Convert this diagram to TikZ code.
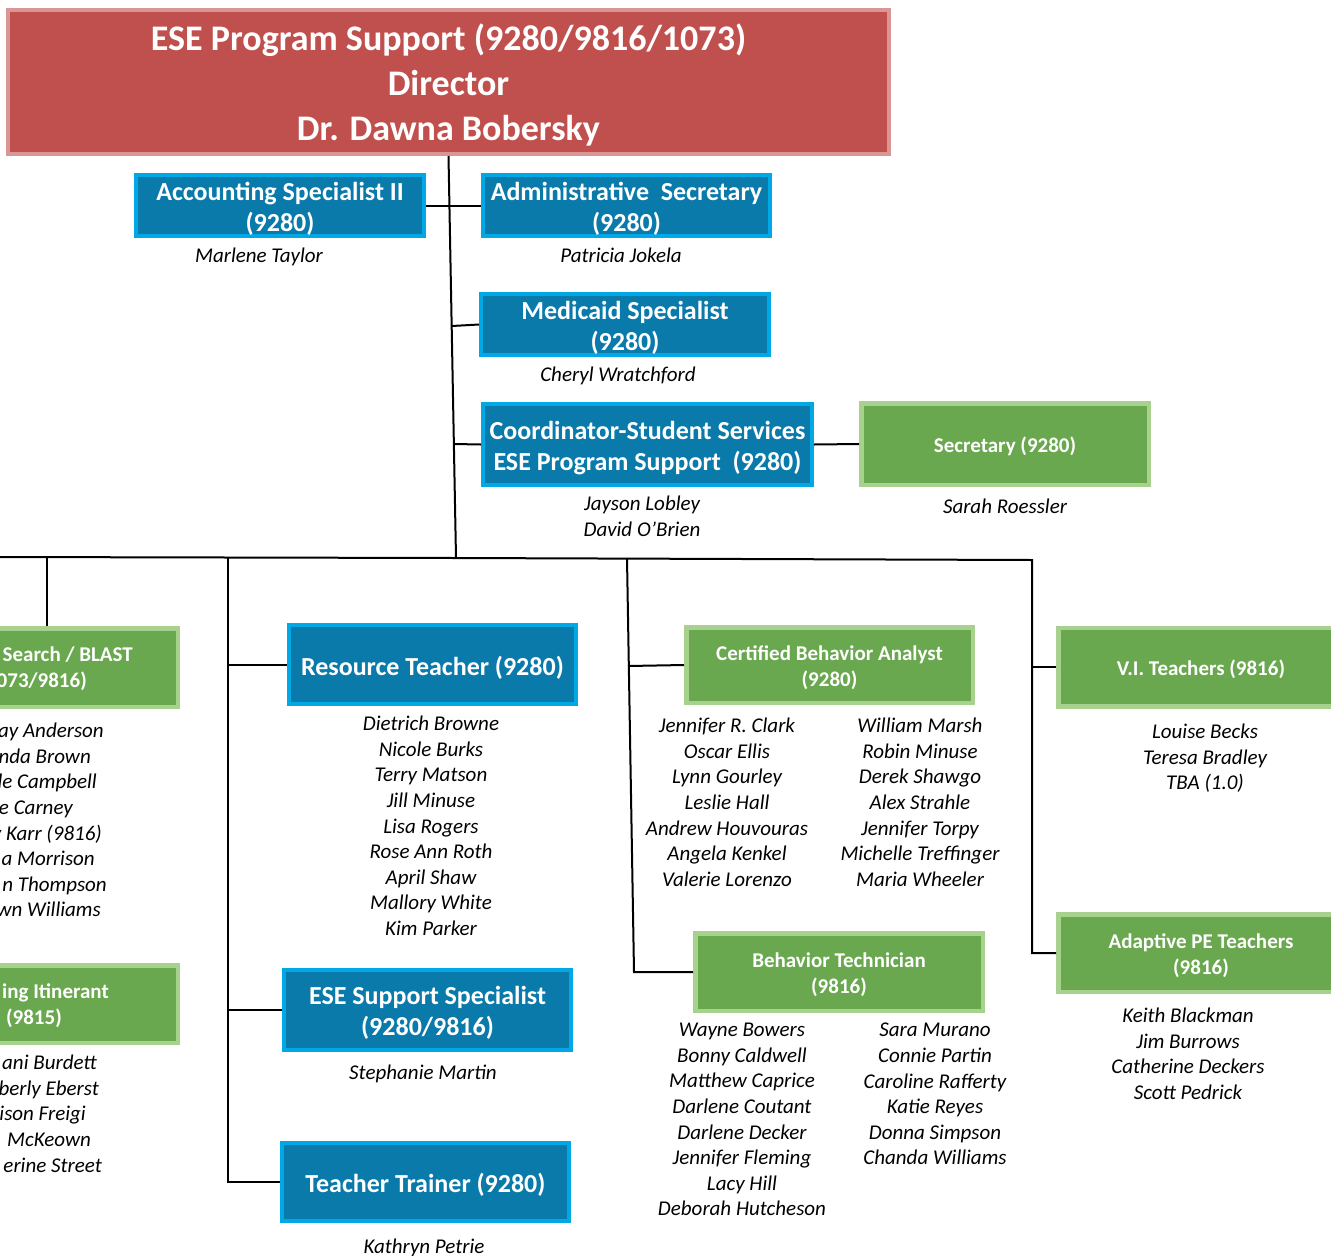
\documentclass[tikz,border=0pt]{standalone}
\usepackage{fontspec}
\setmainfont{Carlito}
\definecolor{dirfill}{HTML}{C0504D}
\definecolor{dirborder}{HTML}{DA9694}
\definecolor{bluefill}{HTML}{0A7AAB}
\definecolor{blueborder}{HTML}{00A8E6}
\definecolor{greenfill}{HTML}{6AA84F}
\definecolor{greenborder}{HTML}{A9D18E}
\newcommand{\padR}[1]{\rule{#1}{0pt}}
\newcommand{\liftup}[1]{\rule{0pt}{#1em}}
\tikzset{
 conn/.style={line width=2pt, black},
 dirbox/.style={fill=dirfill, draw=dirborder, line width=4pt, text=white, font=\bfseries\fontsize{36}{45}\selectfont, align=center, inner sep=0},
 bluebox/.style={fill=bluefill, draw=blueborder, line width=4pt, text=white, font=\bfseries\fontsize{26}{31}\selectfont, align=center, inner sep=0, execute at begin node={\rule{0pt}{0.97em}}},
 greenbox/.style={fill=greenfill, draw=greenborder, line width=4.5pt, text=white, font=\bfseries\fontsize{21}{26}\selectfont, align=center, inner sep=0, execute at begin node={\rule{0pt}{0.97em}}},
 greentext/.style={text=white, font=\bfseries\fontsize{21}{26}\selectfont, align=right, inner sep=0, anchor=east},
 names/.style={font=\itshape\fontsize{21}{25.6}\selectfont, align=center, inner sep=0, anchor=north, execute at begin node=\strut},
 lnames/.style={font=\itshape\fontsize{21}{25.6}\selectfont, align=right, inner sep=0, anchor=north east, execute at begin node=\strut},
}
\begin{document}
\begin{tikzpicture}[x=1pt,y=-1pt]
\useasboundingbox (0,0) rectangle (1331,1256);
\clip (0,0) rectangle (1331,1256);

% Director
\node[dirbox, minimum width=881, minimum height=144] (dir) at (448.5,82) {\liftup{0.89}ESE Program Support (9280/9816/1073)\\Director\\Dr. Dawna Bobersky};

% Blue boxes upper
\node[bluebox, minimum width=288, minimum height=61] (acc) at (280,205.5) {\liftup{0.94}Accounting Specialist II\\(9280)};
\node[bluebox, minimum width=287, minimum height=61] (adm) at (626.5,205.5) {\liftup{0.94}Administrative~ Secretary\\(9280)};
\node[bluebox, minimum width=288, minimum height=61] (med) at (625,324.5) {\liftup{0.94}Medicaid Specialist\\(9280)};
\node[bluebox, minimum width=329, minimum height=81] (coord) at (647.5,444.5) {\liftup{0.94}Coordinator-Student Services\\ESE Program Support~ (9280)};
\node[greenbox, minimum width=287.5, minimum height=81.5] (sec) at (1005,444) {Secretary (9280)};

\node[names] (accn) at (259,244) {Marlene Taylor};
\node[names] (admn) at (621,244) {Patricia Jokela};
\node[names] (medn) at (618,363) {Cheryl Wratchford};
\node[names] (coordn) at (642,496) {Jayson Lobley\\David O’Brien};
\node[names] (secn) at (1005,495) {Sarah Roessler};

% Left green boxes (cut off)
\node[greenbox, minimum width=287.5, minimum height=78.5] (cf) at (34,667.5) {};
\node[greentext] (cft) at (133,669) {Search / BLAST\\073/9816)\hspace*{46pt}};
\node[lnames] (cfn) at (107,723) {ay Anderson\padR{3pt}\\nda Brown\padR{16pt}\\le Campbell\padR{10pt}\\e Carney\padR{34pt}\\y Karr (9816)\padR{5pt}\\a Morrison\padR{12pt}\\n Thompson\\wn Williams\padR{6pt}};

\node[greenbox, minimum width=287.5, minimum height=77.5] (hi) at (34,1004) {};
\node[greentext] (hit) at (109,1006) {ing Itinerant\\(9815)\hspace*{47pt}};
\node[lnames] (hin) at (102,1055) {ani Burdett\padR{5pt}\\berly Eberst\padR{3pt}\\ison Freigi\padR{16pt}\\McKeown\padR{11pt}\\erine Street};

% Left column blue boxes
\node[bluebox, minimum width=287, minimum height=79] (rt) at (432.5,664.5) {Resource Teacher (9280)};
\node[names] (rtn) at (431,716) {Dietrich Browne\\Nicole Burks\\Terry Matson\\Jill Minuse\\Lisa Rogers\\Rose Ann Roth\\April Shaw\\Mallory White\\Kim Parker};
\node[bluebox, minimum width=287, minimum height=80] (ese) at (427.5,1010) {\liftup{0.94}ESE Support Specialist\\(9280/9816)};
\node[names] (esen) at (423,1061) {Stephanie Martin};
\node[bluebox, minimum width=287, minimum height=78] (tt) at (425.5,1182) {Teacher Trainer (9280)};
\node[names] (ttn) at (424,1235) {Kathryn Petrie};

% Middle green boxes
\node[greenbox, minimum width=286.5, minimum height=75.5] (cba) at (829.5,665) {\liftup{0.92}Certified Behavior Analyst\\(9280)};
\node[names] (cban1) at (727,718) {Jennifer R. Clark\\Oscar Ellis\\Lynn Gourley\\Leslie Hall\\Andrew Houvouras\\Angela Kenkel\\Valerie Lorenzo};
\node[names] (cban2) at (920,718) {William Marsh\\Robin Minuse\\Derek Shawgo\\Alex Strahle\\Jennifer Torpy\\Michelle Treffinger\\Maria Wheeler};
\node[greenbox, minimum width=287.5, minimum height=77.5] (bt) at (839,972) {\liftup{0.92}Behavior Technician\\(9816)};
\node[names] (btn1) at (742,1023) {Wayne Bowers\\Bonny Caldwell\\Matthew Caprice\\Darlene Coutant\\Darlene Decker\\Jennifer Fleming\\Lacy Hill\\Deborah Hutcheson};
\node[names] (btn2) at (935,1023) {Sara Murano\\Connie Partin\\Caroline Rafferty\\Katie Reyes\\Donna Simpson\\Chanda Williams};

% Right green boxes
\node[greenbox, minimum width=285.5, minimum height=78.5] (vi) at (1201,667) {V.I. Teachers (9816)};
\node[names] (vin) at (1205,724) {Louise Becks\\Teresa Bradley\\TBA (1.0)};
\node[greenbox, minimum width=285.5, minimum height=77.5] (ape) at (1201,953) {\liftup{0.92}Adaptive PE Teachers\\(9816)};
\node[names] (apen) at (1188,1008) {Keith Blackman\\Jim Burrows\\Catherine Deckers\\Scott Pedrick};

% Connector coordinates
\coordinate (busJ) at (456,558);
\coordinate (busL) at (0,557);
\coordinate (busR) at (1032,560);
\coordinate (tMed) at (452,326);
\coordinate (tCoord) at (454,444);
\coordinate (cfJ) at (47,557);
\coordinate (lJ) at (228,557);
\coordinate (mJ) at (627,558);
\coordinate (mBot) at (634,972);
\coordinate (mCba) at (628,666);

% Connectors
\draw[conn] (dir.south) -- (busJ);
\draw[conn] (acc.east) -- (adm.west);
\draw[conn] (tMed) -- (med.west);
\draw[conn] (tCoord) -- (coord.west);
\draw[conn] (coord.east) -- (sec.west);
\draw[conn] (busL) -- (busJ) -- (busR) |- (ape.west);
\draw[conn] (vi.west) -- (vi.west -| busR);
\draw[conn] (cfJ) -- (cfJ |- cf.north);
\draw[conn] (lJ) |- (tt.west);
\draw[conn] (lJ |- rt.west) -- (rt.west);
\draw[conn] (lJ |- ese.west) -- (ese.west);
\draw[conn] (mJ) -- (mBot) -- (bt.west);
\draw[conn] (mCba) -- (cba.west);
\end{tikzpicture}
\end{document}
